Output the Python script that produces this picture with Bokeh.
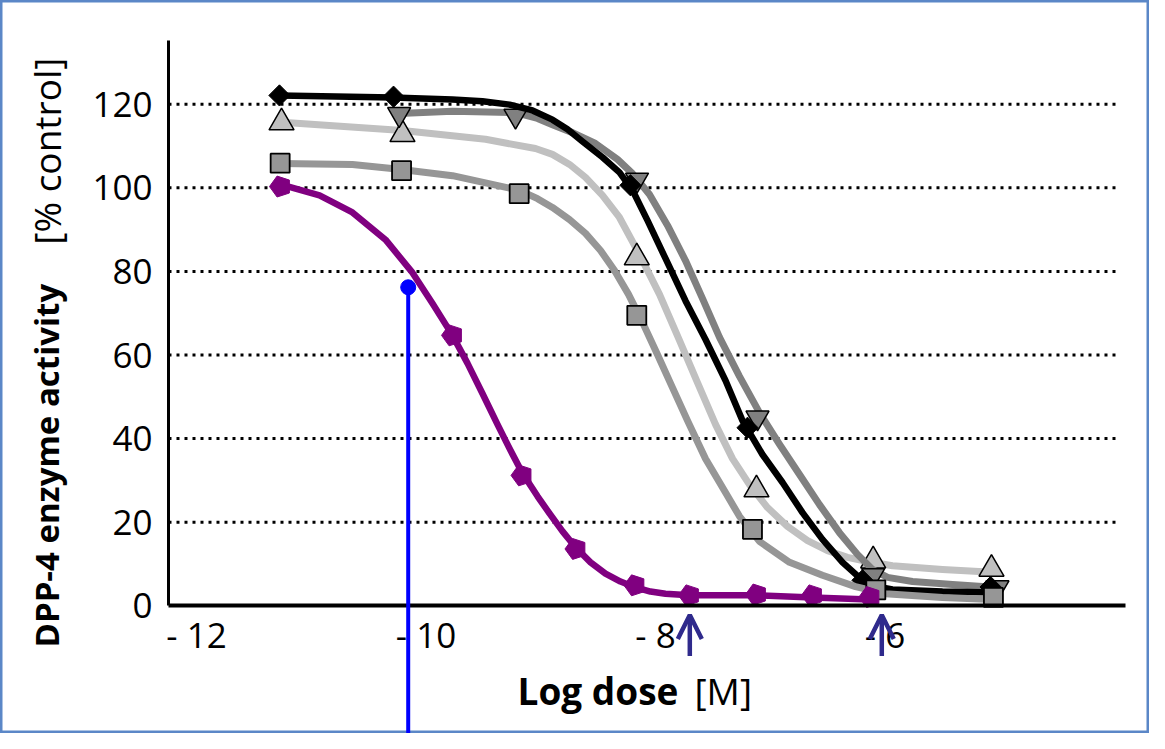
from math import pi
from bokeh.plotting import figure
from bokeh.models import Range1d, Label, Arrow, OpenHead, FixedTicker
from bokeh.embed import file_html
from bokeh.resources import INLINE

FONT = "Open Sans"

# ---- ticks / titles ----
x_ticks = [-12, -10, -8, -6]
x_tick_labels = ["- 12", "- 10", "- 8", "- 6"]
y_ticks = [0, 20, 40, 60, 80, 100, 120]
y_tick_labels = ["0", "20", "40", "60", "80", "100", "120"]
x_title_bold = "Log dose"
x_title_unit = "[M]"
y_title_bold = "DPP-4 enzyme activity"
y_title_unit = "[% control]"

# ---- measured points (log dose [M], % control) ----
diamond_x = [-11.277, -10.283, -8.218, -7.198, -6.196, -5.080]
diamond_y = [122.1, 121.8, 100.6, 42.6, 6.1, 4.5]

tri_down_x = [-10.234, -9.220, -8.161, -7.111, -6.103, -5.020]
tri_down_y = [117.6, 117.2, 101.9, 45.0, 7.3, 4.4]

tri_up_x = [-11.259, -10.205, -8.163, -7.120, -6.103, -5.072]
tri_up_y = [115.6, 112.8, 83.3, 27.8, 10.8, 8.8]

square_x = [-11.271, -10.213, -9.188, -8.163, -7.155, -6.080, -5.055]
square_y = [105.9, 104.1, 98.6, 69.5, 18.3, 3.8, 2.0]

purple_x = [-11.268, -9.769, -9.163, -8.693, -8.179, -7.704, -7.120, -6.632, -6.131]
purple_y = [100.3, 64.7, 31.2, 13.6, 4.9, 2.5, 2.7, 2.5, 2.1]

# ---- fitted curves ----
black_curve_x = [-11.277, -10.292, -9.769, -9.508, -9.272, -9.072, -8.898, -8.767, -8.636, -8.462,
                 -8.314, -8.200, -8.070, -7.913, -7.739, -7.564, -7.390, -7.242, -7.068, -6.893,
                 -6.719, -6.545, -6.370, -6.196, -6.065, -5.935, -5.499, -5.063]
black_curve_y = [122.1, 121.6, 121.1, 120.7, 119.9, 118.5, 116.3, 114.0, 111.1, 107.3,
                 103.7, 99.4, 92.2, 83.1, 73.0, 63.7, 53.9, 44.3, 36.2, 29.5,
                 22.3, 15.9, 10.4, 6.1, 4.6, 3.9, 3.4, 3.2]

tri_down_curve_x = [-10.231, -9.769, -9.220, -9.028, -8.898, -8.723, -8.523, -8.331, -8.200, -8.052,
                    -7.895, -7.739, -7.590, -7.442, -7.268, -7.094, -6.919, -6.745, -6.571, -6.397,
                    -6.240, -6.109, -5.978, -5.760, -5.412, -5.020]
tri_down_curve_y = [117.8, 118.3, 118.0, 116.6, 115.1, 113.2, 110.6, 106.8, 103.4, 98.4,
                    91.0, 82.6, 73.5, 64.2, 54.9, 46.2, 38.6, 31.4, 24.2, 17.5,
                    12.3, 8.7, 6.8, 5.8, 5.1, 4.4]

tri_up_curve_x = [-11.224, -10.205, -9.481, -9.046, -8.898, -8.749, -8.610, -8.462, -8.314, -8.139,
                  -7.965, -7.791, -7.634, -7.477, -7.329, -7.181, -7.024, -6.850, -6.675, -6.501,
                  -6.327, -6.153, -5.935, -5.499, -5.063]
tri_up_curve_y = [115.6, 113.7, 111.6, 109.4, 108.0, 105.6, 102.5, 98.2, 92.9, 84.0,
                  74.5, 63.5, 53.4, 43.4, 35.2, 29.0, 23.5, 19.0, 15.6, 13.2,
                  11.6, 10.6, 9.6, 8.7, 8.0]

square_curve_x = [-11.268, -10.641, -10.213, -9.769, -9.185, -9.028, -8.898, -8.749, -8.610, -8.479,
                  -8.357, -8.235, -8.113, -7.983, -7.852, -7.721, -7.564, -7.390, -7.268, -7.094,
                  -6.832, -6.545, -6.257, -5.996, -5.499, -5.063]
square_curve_y = [105.8, 105.6, 104.4, 102.9, 99.4, 97.4, 95.3, 92.4, 89.1, 85.0,
                  80.2, 74.5, 67.8, 60.1, 52.2, 44.3, 35.2, 27.1, 21.4, 15.4,
                  10.4, 7.3, 4.6, 2.9, 2.0, 1.5]

purple_curve_x = [-11.268, -10.928, -10.641, -10.353, -10.118, -9.943, -9.769, -9.638, -9.508, -9.377,
                  -9.264, -9.159, -9.028, -8.924, -8.810, -8.697, -8.566, -8.436, -8.305, -8.174,
                  -8.044, -7.913, -7.704, -7.129, -6.632, -6.135]
purple_curve_y = [100.8, 98.2, 94.1, 87.6, 79.7, 72.3, 64.7, 58.0, 50.8, 43.4,
                  37.2, 31.7, 26.2, 22.1, 17.8, 14.0, 10.4, 7.7, 5.8, 4.4,
                  3.4, 2.9, 2.5, 2.5, 2.0, 1.5]

# ---- annotations ----
blue_x = [-10.155]
blue_y = [76.2]
arrow_x = [-7.701, -6.028]
arrow_tip_y = -2.2
arrow_tail_y = -12.0

# ---- layout constants ----
X_START, X_END = -13.708, -3.695
Y_START, Y_END = -30.55, 144.81
AXIS_X = -12.244
AXIS_X_END = -3.904
AXIS_Y_TOP = 135.2
GRID_X_END = -3.991

p = figure(width=1149, height=733, x_range=Range1d(X_START, X_END), y_range=Range1d(Y_START, Y_END),
           output_backend="svg", toolbar_location=None, min_border=0)
p.outline_line_color = "#5b87c7"
p.outline_line_width = 4
p.background_fill_color = "white"
p.border_fill_color = "white"
p.grid.visible = False

xa = p.xaxis[0]
xa.fixed_location = 0
xa.bounds = (AXIS_X, AXIS_X_END)
xa.ticker = FixedTicker(ticks=x_ticks)
xa.major_label_overrides = {t: l for t, l in zip(x_ticks, x_tick_labels)}
xa.axis_line_width = 4
xa.axis_line_color = "black"
xa.major_tick_line_color = None
xa.minor_tick_line_color = None
xa.major_label_text_font = FONT
xa.major_label_text_font_size = "35px"
xa.major_label_text_color = "black"
xa.major_label_standoff = -1

ya = p.yaxis[0]
ya.fixed_location = AXIS_X
ya.bounds = (0, AXIS_Y_TOP)
ya.ticker = FixedTicker(ticks=y_ticks)
ya.major_label_overrides = {t: l for t, l in zip(y_ticks, y_tick_labels)}
ya.axis_line_width = 3
ya.axis_line_color = "black"
ya.major_tick_line_color = None
ya.minor_tick_line_color = None
ya.major_label_text_font = FONT
ya.major_label_text_font_size = "35px"
ya.major_label_text_color = "black"
ya.major_label_standoff = 10

# dotted grid lines
gv = y_ticks[1:]
p.segment(x0=[AXIS_X] * len(gv), y0=gv, x1=[GRID_X_END] * len(gv), y1=gv,
          line_color="black", line_width=3, line_dash="3 5")

LW = 7
# light grey triangles
p.line(tri_up_curve_x, tri_up_curve_y, line_color="#c0c0c0", line_width=LW, line_join="round", line_cap="round")
p.scatter(tri_up_x, tri_up_y, marker="triangle", size=25, fill_color="#c0c0c0", line_color="black", line_width=1.5)
# dark grey inverted triangles
p.line(tri_down_curve_x, tri_down_curve_y, line_color="#808080", line_width=LW, line_join="round", line_cap="round")
p.scatter(tri_down_x, tri_down_y, marker="inverted_triangle", size=23, fill_color="#808080", line_color="black", line_width=1.5)
# black diamonds
p.line(black_curve_x, black_curve_y, line_color="black", line_width=6.5, line_join="round", line_cap="round")
p.scatter(diamond_x, diamond_y, marker="square", angle=pi / 4, size=15, fill_color="black", line_color="black")
# grey squares
p.line(square_curve_x, square_curve_y, line_color="#969696", line_width=LW, line_join="round", line_cap="round")
p.scatter(square_x, square_y, marker="square", size=19, fill_color="#969696", line_color="black", line_width=1.8)
# purple pentagons
p.line(purple_curve_x, purple_curve_y, line_color="#800080", line_width=6.5, line_join="round", line_cap="round")
p.ngon(x=purple_x, y=purple_y, radius=11, radius_units="screen", n=5, angle=pi / 2,
       fill_color="#800080", line_color="#800080")

# blue drop line
bl = p.segment(x0=blue_x, y0=blue_y, x1=blue_x, y1=[Y_START - 5] * len(blue_x), line_color="#0000ff", line_width=4)
bl.level = "overlay"
bc = p.scatter(blue_x, blue_y, marker="circle", size=15, fill_color="#0000ff", line_color="#0000ff")
bc.level = "overlay"

# arrows
for ax_ in arrow_x:
    p.add_layout(Arrow(x_start=ax_, y_start=arrow_tail_y, x_end=ax_, y_end=arrow_tip_y,
                       line_color="#2f2a8c", line_width=4.5,
                       end=OpenHead(size=24, line_color="#2f2a8c", line_width=4.5)))

# axis titles
p.add_layout(Label(x=-9.2026, y=-20.25, text=x_title_bold, text_font=FONT, text_font_size="37px",
                   text_font_style="bold", text_align="left", text_baseline="alphabetic", text_color="black"))
p.add_layout(Label(x=-7.660, y=-20.25, text=x_title_unit, text_font=FONT, text_font_size="37px",
                   text_align="left", text_baseline="alphabetic", text_color="black"))
p.add_layout(Label(x=-13.307, y=-9.98, text=y_title_bold, angle=pi / 2, text_font=FONT, text_font_size="33px",
                   text_font_style="bold", text_align="left", text_baseline="alphabetic", text_color="black"))
p.add_layout(Label(x=-13.307, y=86.4, text=y_title_unit, angle=pi / 2, text_font=FONT, text_font_size="37px",
                   text_align="left", text_baseline="alphabetic", text_color="black"))

open("out.html", "w").write(file_html(p, INLINE))
